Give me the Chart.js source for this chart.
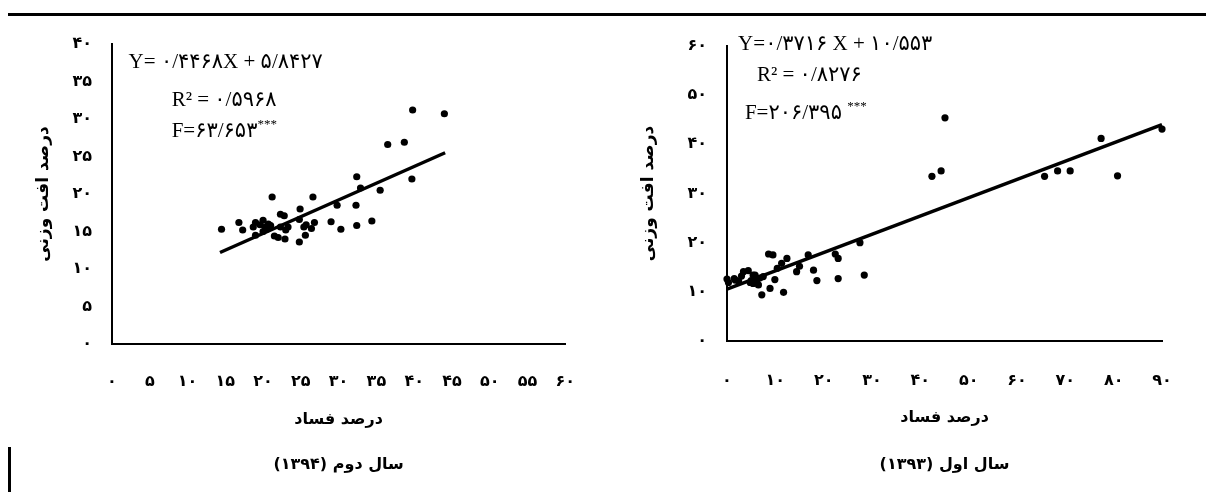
<!DOCTYPE html>
<html>
<head>
<meta charset="utf-8">
<script src="https://cdn.jsdelivr.net/npm/chart.js@4.4.0/dist/chart.umd.min.js"></script>
<style>
  body { margin: 0; background: #fff; width: 1206px; height: 492px; position: relative; overflow: hidden; }
  .box { position: absolute; top: 0; width: 603px; height: 492px; }
  #topline { position: absolute; left: 8px; top: 13px; width: 1198px; height: 3px; background: #000; }
  #sidebar { position: absolute; left: 8px; top: 447px; width: 3px; height: 45px; background: #000; }
</style>
</head>
<body>
<div id="topline"></div>
<div id="sidebar"></div>
<div class="box" style="left:0"><canvas id="chart2"></canvas></div>
<div class="box" style="left:603px"><canvas id="chart1"></canvas></div>
<script>
// سال دوم (۱۳۹۴)
const year2X = [14.5, 16.8, 17.3, 18.7, 19.0, 19.0, 20.0, 20.0, 20.3, 20.7, 21.2, 21.5, 22.0, 22.3, 22.3,
  22.8, 22.9, 23.3, 24.8, 24.8, 24.9, 25.4, 25.6, 25.7, 26.4, 26.6, 26.8, 29.0, 29.8, 30.3,
  32.4, 32.9, 32.3, 32.4, 34.4, 35.5, 39.7, 36.5, 38.7, 39.8, 44.0, 20.5, 21.0, 19.6, 23.0];
const year2Y = [15.3, 16.2, 15.2, 15.6, 16.2, 14.5, 16.5, 15.0, 15.6, 16.0, 19.6, 14.4, 14.2, 15.6, 17.3,
  17.1, 14.0, 15.6, 13.6, 16.6, 18.0, 15.6, 14.5, 15.9, 15.4, 19.6, 16.2, 16.3, 18.5, 15.3,
  22.3, 20.8, 18.5, 15.8, 16.4, 20.5, 22.0, 26.6, 26.9, 31.2, 30.7, 15.3, 15.8, 15.9, 15.2];
const year2TrendX = [14.3, 44.1];
const year2TrendY = [12.2, 25.5];
const year2XTicks = [0, 5, 10, 15, 20, 25, 30, 35, 40, 45, 50, 55, 60];
const year2YTicks = [0, 5, 10, 15, 20, 25, 30, 35, 40];

// سال اول (۱۳۹۳)
const year1X = [0, 0.3, 1.5, 1.7, 3.4, 4.4, 5.4, 5.8, 5.4, 6.1, 6.5, 7.2, 8.6, 9.5, 8.9, 9.9, 10.4, 11.3,
  11.7, 12.4, 14.4, 15.0, 16.8, 17.9, 18.6, 22.4, 23.0, 23.0, 27.5, 28.4, 42.4, 44.3, 45.1,
  65.7, 68.4, 71.0, 77.4, 80.8, 90, 5.0, 6.8, 4.8, 2.4, 7.5, 3.0];
const year1Y = [12.6, 11.9, 12.7, 12.4, 14.1, 14.3, 13.4, 13.4, 11.7, 12.1, 11.4, 9.4, 17.7, 17.5, 10.7, 12.5, 14.8, 15.8,
  9.9, 16.8, 14.1, 15.2, 17.5, 14.4, 12.3, 17.7, 16.8, 12.7, 20.0, 13.4, 33.5, 34.6, 45.4,
  33.5, 34.6, 34.6, 41.2, 33.6, 43.1, 12.3, 12.8, 11.9, 12.2, 13.1, 13.2];
const year1TrendX = [0, 90];
const year1TrendY = [10.55, 44.0];
const year1XTicks = [0, 10, 20, 30, 40, 50, 60, 70, 80, 90];
const year1YTicks = [0, 10, 20, 30, 40, 50, 60];

const faDigits = ['۰', '۱', '۲', '۳', '۴', '۵', '۶', '۷', '۸', '۹'];
const toFa = v => String(v).replace(/\d/g, d => faDigits[d]);

const equationText = {
  id: 'equationText',
  afterDatasetsDraw(chart, args, opts) {
    const { ctx, scales: { x, y } } = chart;
    ctx.save();
    ctx.fillStyle = '#000';
    ctx.textAlign = 'left';
    ctx.textBaseline = 'middle';
    opts.lines.forEach(line => {
      let px = x.getPixelForValue(line.at[0]);
      const py = y.getPixelForValue(line.at[1]);
      ctx.font = '21px "Liberation Serif", "DejaVu Sans"';
      ctx.fillText(line.text, px, py);
      if (line.sup) {
        px += ctx.measureText(line.text).width;
        ctx.font = '13px "Liberation Serif"';
        ctx.fillText(line.sup, px, py - 7);
      }
    });
    ctx.restore();
  }
};

const caption = {
  id: 'caption',
  afterDraw(chart, args, opts) {
    const { ctx, chartArea: { left, right } } = chart;
    ctx.save();
    ctx.font = 'bold 16px "DejaVu Sans"';
    ctx.direction = 'rtl';
    ctx.textAlign = 'center';
    ctx.textBaseline = 'middle';
    ctx.fillStyle = '#000';
    ctx.fillText(opts.text, (left + right) / 2, opts.y);
    ctx.restore();
  }
};

function makeChart(id, c) {
  const points = c.xs.map((v, i) => ({ x: v, y: c.ys[i] }));
  const trend = c.trendX.map((v, i) => ({ x: v, y: c.trendY[i] }));
  const tickFont = { family: 'DejaVu Sans', size: 16, weight: 'bold' };
  const titleFont = { family: 'DejaVu Sans', size: 16, weight: 'bold' };

  return new Chart(document.getElementById(id), {
    type: 'scatter',
    data: {
      datasets: [{
        data: points,
        pointRadius: 3.6,
        pointHoverRadius: 3.6,
        backgroundColor: '#000',
        borderWidth: 0,
        clip: false
      }, {
        type: 'line',
        data: trend,
        borderColor: '#000',
        borderWidth: 3.5,
        pointRadius: 0,
        fill: false,
        clip: false
      }]
    },
    options: {
      responsive: true,
      maintainAspectRatio: false,
      animation: false,
      events: [],
      layout: {
        padding: { left: 0, top: c.area.top, right: 603 - c.area.right, bottom: 0 }
      },
      plugins: {
        legend: { display: false },
        tooltip: { enabled: false },
        equationText: { lines: c.lines },
        caption: { text: c.caption, y: 465 }
      },
      scales: {
        x: {
          type: 'linear',
          min: c.xTicks[0],
          max: c.xTicks[c.xTicks.length - 1],
          afterBuildTicks: s => { s.ticks = c.xTicks.map(v => ({ value: v })); },
          afterFit: s => { s.height = 492 - c.area.bottom; },
          grid: { display: true, drawOnChartArea: false, drawTicks: false },
          border: { display: true, color: '#000', width: 2 },
          ticks: {
            autoSkip: false,
            maxRotation: 0,
            padding: c.xTickPad,
            color: '#000',
            font: tickFont,
            callback: v => toFa(v)
          },
          title: {
            display: true,
            text: 'درصد فساد',
            color: '#000',
            font: titleFont,
            padding: { bottom: c.xTitlePad, top: 0 }
          }
        },
        y: {
          type: 'linear',
          min: c.yTicks[0],
          max: c.yTicks[c.yTicks.length - 1],
          afterBuildTicks: s => { s.ticks = c.yTicks.map(v => ({ value: v })); },
          afterFit: s => { s.width = c.area.left; },
          grid: { display: true, drawOnChartArea: false, drawTicks: false },
          border: { display: true, color: '#000', width: 2 },
          ticks: {
            padding: 20,
            color: '#000',
            font: tickFont,
            callback: v => toFa(v)
          },
          title: {
            display: true,
            text: 'درصد افت وزنی',
            color: '#000',
            font: { family: 'DejaVu Sans', size: 17, weight: 'bold' },
            padding: { top: c.yTitlePad, bottom: 0 }
          }
        }
      }
    },
    plugins: [equationText, caption]
  });
}

makeChart('chart2', {
  xs: year2X, ys: year2Y, trendX: year2TrendX, trendY: year2TrendY,
  xTicks: year2XTicks, yTicks: year2YTicks,
  area: { left: 112, right: 574, top: 44, bottom: 344 },
  xTickPad: 28, xTitlePad: 63, yTitlePad: 33,
  caption: 'سال دوم (۱۳۹۴)',
  lines: [
    { text: 'Y= ۰/۴۴۶۸X + ۵/۸۴۲۷', at: [2.2, 37.6] },
    { text: 'R² = ۰/۵۹۶۸', at: [7.9, 32.5] },
    { text: 'F=۶۳/۶۵۳', sup: '***', at: [7.9, 28.3] }
  ]
});

makeChart('chart1', {
  xs: year1X, ys: year1Y, trendX: year1TrendX, trendY: year1TrendY,
  xTicks: year1XTicks, yTicks: year1YTicks,
  area: { left: 124, right: 559, top: 46, bottom: 341 },
  xTickPad: 30, xTitlePad: 65, yTitlePad: 35,
  caption: 'سال اول (۱۳۹۳)',
  lines: [
    { text: 'Y=۰/۳۷۱۶ X + ۱۰/۵۵۳', at: [2.3, 60.4] },
    { text: 'R² = ۰/۸۲۷۶', at: [6.2, 54.1] },
    { text: 'F=۲۰۶/۳۹۵ ', sup: '***', at: [3.7, 46.3] }
  ]
});
</script>
</body>
</html>
